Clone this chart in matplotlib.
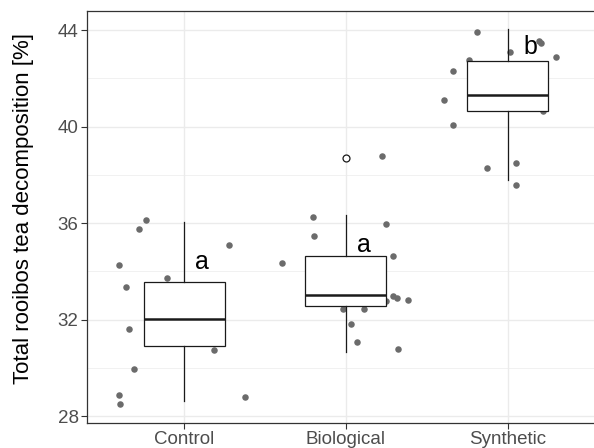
import numpy as np
import matplotlib
matplotlib.use("Agg")
import matplotlib.pyplot as plt

plt.rcParams['font.family'] = ['Liberation Sans', 'DejaVu Sans']

# Groups and box statistics
groups = ["Control", "Biological", "Synthetic"]
box_lo = [28.61, 30.65, 37.77]
box_q1 = [30.89, 32.56, 40.66]
box_med = [32.02, 33.02, 41.29]
box_q3 = [33.54, 34.62, 42.73]
box_hi = [36.04, 36.32, 44.03]
box_out = [[], [38.69], []]

# Jittered raw observations (offset from group centre, value)
control_dx = [-0.237, -0.276, 0.276, -0.402, -0.103, -0.356, -0.338, 0.184, -0.307, -0.402, -0.393, 0.374]
control_y = [36.11, 35.74, 35.08, 34.25, 33.71, 33.36, 31.62, 30.75, 29.95, 28.87, 28.50, 28.79]
bio_dx = [0.225, -0.204, 0.250, -0.198, 0.293, -0.396, 0.293, 0.318, 0.386, 0.246, -0.019, 0.111, 0.033, 0.068, 0.324]
bio_y = [38.78, 36.24, 35.95, 35.45, 34.62, 34.33, 32.96, 32.88, 32.80, 32.75, 32.45, 32.45, 31.83, 31.08, 30.79]
syn_dx = [-0.190, 0.194, 0.209, 0.014, 0.301, -0.239, -0.340, -0.396, 0.220, -0.340, 0.051, -0.128, 0.051]
syn_y = [43.90, 43.54, 43.48, 43.08, 42.87, 42.76, 42.29, 41.11, 40.64, 40.06, 38.49, 38.29, 37.58]

# Significance letters
letters = ["a", "a", "b"]
letter_dx = [0.11, 0.11, 0.14]
letter_y = [34.4, 35.09, 43.31]

fig = plt.figure(figsize=(5.94, 4.48), dpi=100)
ax = fig.add_axes([87 / 594, 25 / 448, (604.7 - 87) / 594, 412 / 448])

pos = np.arange(1, len(groups) + 1)

for p, dx, yy in zip(pos, [control_dx, bio_dx, syn_dx], [control_y, bio_y, syn_y]):
    ax.scatter(p + np.array(dx), yy, s=22, color='#6b6b6b', linewidths=0, zorder=2)

stats = []
for i, g in enumerate(groups):
    stats.append(dict(label=g, whislo=box_lo[i], q1=box_q1[i], med=box_med[i],
                      q3=box_q3[i], whishi=box_hi[i], fliers=box_out[i]))

ax.bxp(stats, positions=pos, widths=0.5, patch_artist=True, showcaps=False,
       boxprops=dict(facecolor='white', edgecolor='#1a1a1a', linewidth=0.9),
       medianprops=dict(color='#1a1a1a', linewidth=1.8),
       whiskerprops=dict(color='#1a1a1a', linewidth=0.9),
       flierprops=dict(marker='o', markerfacecolor='white', markeredgecolor='#1a1a1a',
                       markersize=5, markeredgewidth=0.9),
       zorder=3)

for p, t, dx, yy in zip(pos, letters, letter_dx, letter_y):
    ax.text(p + dx, yy, t, ha='center', va='center', fontsize=18, color='black', zorder=4)

ax.set_xlim(0.4, 3.6)
ax.set_ylim(27.71, 44.79)
ax.set_xticks(pos)
ax.set_xticklabels(groups)
ax.set_yticks([28, 32, 36, 40, 44])
ax.set_yticks([30, 34, 38, 42], minor=True)
ax.grid(which='major', color='#ebebeb', linewidth=1.0, zorder=0)
ax.grid(which='minor', axis='y', color='#ebebeb', linewidth=0.5, zorder=0)
ax.set_axisbelow(True)
ax.tick_params(which='major', length=4, width=0.8, color='#333333', labelcolor='#4d4d4d',
               labelsize=13.5, pad=2)
ax.tick_params(which='minor', length=0)
for s in ax.spines.values():
    s.set_color('#333333')
    s.set_linewidth(0.9)

ax.set_ylabel("Total rooibos tea decomposition [%]", fontsize=16, color='black')
ax.yaxis.set_label_coords(-0.102, 0.52)

fig.savefig("out.png", dpi=100)
